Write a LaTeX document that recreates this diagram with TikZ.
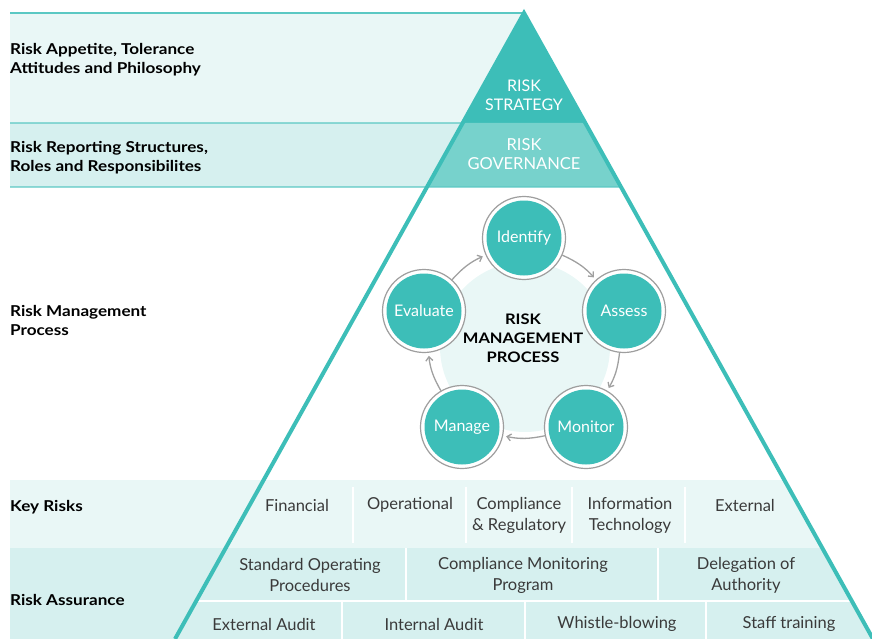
\documentclass[tikz,border=0pt]{standalone}
\usepackage{fontspec}
\setmainfont{Lato}
\newfontfamily\widefont{Lato}[FakeStretch=1.14]
\usetikzlibrary{arrows.meta,calc}

\definecolor{rteal}{HTML}{3DBEB8}
\definecolor{govteal}{HTML}{77D2CC}
\definecolor{bandlight}{HTML}{E9F7F6}
\definecolor{banddark}{HTML}{D6F0EF}
\definecolor{ringgray}{HTML}{9E9E9E}
\definecolor{arrowgray}{HTML}{A0A0A0}
\definecolor{celltext}{HTML}{3A3A3A}

\begin{document}
\begin{tikzpicture}[x=1pt,y=-1pt,
  rowlabel/.style={anchor=west,align=left,inner sep=0pt,font=\widefont\fontsize{15}{19}\selectfont\bfseries},
  stage/.style={circle,minimum size=83,inner sep=0pt,draw=ringgray,line width=1.2pt,fill=white,
    text=white,font=\fontsize{16}{18}\selectfont,
    path picture={\fill[rteal] (path picture bounding box.center) circle (37.5pt);}},
  cell/.style={align=center,text=celltext,font=\fontsize{16.5}{21}\selectfont},
  divider/.style={white,line width=1.5pt}]
\useasboundingbox (0,0) rectangle (872,639);

\coordinate (apex) at (524,13);
\coordinate (bl) at (175,639);
\coordinate (br) at (873,639);

% bands, cut at the right side of the pyramid
\begin{scope}
  \clip (0,0) -- (517,0) -- (br) -- (0,639) -- cycle;
  \fill[bandlight] (10,13) rectangle (873,123);
  \fill[banddark] (10,123) rectangle (873,187);
  \fill[bandlight] (10,480) rectangle (873,548);
  \fill[banddark] (10,548) rectangle (873,639);
\end{scope}

% strategy and governance
\coordinate (sl) at ($(apex)!{110/626}!(bl)$);
\coordinate (sr) at ($(apex)!{110/626}!(br)$);
\coordinate (gl) at ($(apex)!{174/626}!(bl)$);
\coordinate (gr) at ($(apex)!{174/626}!(br)$);
\fill[rteal] (apex) -- (sr) -- (sl) -- cycle;
\fill[govteal] (sl) -- (sr) -- (gr) -- (gl) -- cycle;

\draw[rteal!85,line width=1.2pt] (10,13) -- (apex);
\draw[rteal!85,line width=1.2pt] (10,123) -- (sl);
\draw[rteal!85,line width=1.2pt] (10,187) -- (gr);

\coordinate (al) at ($(apex)!{588/626}!(bl)$);
\coordinate (ar) at ($(apex)!{588/626}!(br)$);
\draw[divider] (al) -- (ar);

\draw[rteal,line width=4pt] (bl) -- (apex) -- (br);

\node[text=white,align=center,font=\fontsize{16}{19}\selectfont] (strategy) at (524,95) {RISK\\STRATEGY};
\node[text=white,align=center,font=\fontsize{16.5}{19}\selectfont] (governance) at (524,154) {RISK\\GOVERNANCE};

% row labels
\node[rowlabel] (appetite) at (10,60) {Risk Appetite, Tolerance\\Attitudes and Philosophy};
\node[rowlabel] (reporting) at (10,158) {Risk Reporting Structures,\\Roles and Responsibilites};
\node[rowlabel] (process) at (10,320) {Risk Management\\Process};
\node[rowlabel] (keyrisks) at (10,507) {Key Risks};
\node[rowlabel] (assurance) at (10,600) {Risk Assurance};

% process cycle
\fill[bandlight] (525,347) circle (85pt);
\node[align=center,font=\widefont\fontsize{14.5}{19}\selectfont\bfseries] (rmp) at (523,338) {RISK\\MANAGEMENT\\PROCESS};

\node[stage] (identify) at (524,238) {Identify};
\node[stage] (assess) at (624,311) {Assess};
\node[stage] (monitor) at (586,427) {Monitor};
\node[stage] (manage) at (462,427) {Manage};
\node[stage] (evaluate) at (424,311) {Evaluate};

\begin{scope}[>={Straight Barb[length=4pt,width=7pt]},
              every edge/.style={draw=arrowgray,line width=1.3pt,shorten >=3pt}]
    \path [->] (identify) edge[bend left=12] (assess);
    \path [->] (assess) edge[bend left=12] (monitor);
    \path [->] (monitor) edge[bend left=12] (manage);
    \path [->] (manage) edge[bend left=12] (evaluate);
    \path [->] (evaluate) edge[bend left=12] (identify);
\end{scope}

% key risks
\node[cell] (financial) at (297,505) {Financial};
\node[cell] (operational) at (410,505) {Operational};
\node[cell] (compliance) at (519,515) {Compliance\\\& Regulatory};
\node[cell] (infotech) at (630,515) {Information\\Technology};
\node[cell] (external) at (745,505) {External};
\foreach \x in {353,466,572,685}
  \draw[divider] (\x,487) -- (\x,543);

% risk assurance
\node[cell] (sop) at (310,575) {Standard Operating\\Procedures};
\node[cell] (monprog) at (523,575) {Compliance Monitoring\\Program};
\node[cell] (delegation) at (746,575) {Delegation of\\Authority};
\foreach \x in {406,658}
  \draw[divider] (\x,548) -- (\x,601);

\node[cell] (extaudit) at (264,624) {External Audit};
\node[cell] (intaudit) at (434,624) {Internal Audit};
\node[cell] (whistle) at (617,624) {Whistle-blowing};
\node[cell] (training) at (789,624) {Staff training};
\foreach \x in {342,525,706}
  \draw[divider] (\x,601) -- (\x,639);
\end{tikzpicture}
\end{document}
